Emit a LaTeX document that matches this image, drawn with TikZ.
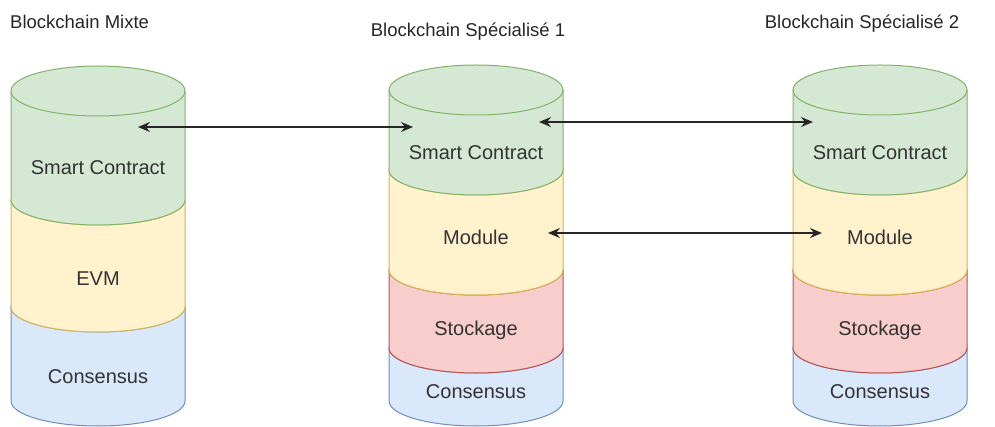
\documentclass[tikz,border=0pt]{standalone}
\usepackage{fontspec}
\setmainfont{Liberation Sans}
\usetikzlibrary{arrows.meta}

\definecolor{scfill}{HTML}{D5E8D4}
\definecolor{scline}{HTML}{82B366}
\definecolor{modfill}{HTML}{FFF2CC}
\definecolor{modline}{HTML}{D6B656}
\definecolor{stofill}{HTML}{F8CECC}
\definecolor{stoline}{HTML}{B85450}
\definecolor{consfill}{HTML}{DAE8FC}
\definecolor{consline}{HTML}{6C8EBF}

% one slice of a drum: centre x, top y, bottom y (pixels, downwards), style
\newcommand{\drumlayer}[4]{%
  \filldraw[#4] (#1-87,-#2) -- (#1-87,-#3)
    arc[start angle=180, end angle=360, x radius=87pt, y radius=25pt]
    -- (#1+87,-#2)
    arc[start angle=0, end angle=180, x radius=87pt, y radius=25pt] -- cycle;
  \draw[#4, fill=none] (#1-87,-#2)
    arc[start angle=180, end angle=360, x radius=87pt, y radius=25pt];
}

\begin{document}
\begin{tikzpicture}[
    x=1pt, y=1pt,
    >={Stealth[length=12pt, width=10pt, inset=4pt]},
    sclayer/.style={fill=scfill, draw=scline, line width=1pt},
    modlayer/.style={fill=modfill, draw=modline, line width=1pt},
    stolayer/.style={fill=stofill, draw=stoline, line width=1pt},
    conslayer/.style={fill=consfill, draw=consline, line width=1pt},
    layertext/.style={
        anchor=base,
        inner sep=0pt,
        font=\fontsize{20}{24}\selectfont,
        text=black!80
    },
    title/.style={
        anchor=base,
        inner sep=0pt,
        font=\fontsize{18.5}{22}\selectfont,
        text=black!85
    },
    link/.style={<->, line width=1.3pt, draw=black!85}
]
    \useasboundingbox (0,0) rectangle (995,-427);

    \drumlayer{98}{307}{401}{conslayer}
    \drumlayer{98}{200}{307}{modlayer}
    \drumlayer{98}{91}{200}{sclayer}

    \drumlayer{476}{348}{401}{conslayer}
    \drumlayer{476}{270}{348}{stolayer}
    \drumlayer{476}{170}{270}{modlayer}
    \drumlayer{476}{90}{170}{sclayer}

    \drumlayer{880}{348}{401}{conslayer}
    \drumlayer{880}{270}{348}{stolayer}
    \drumlayer{880}{170}{270}{modlayer}
    \drumlayer{880}{90}{170}{sclayer}

    \node[title, anchor=base west] (mixte) at (10,-29) {Blockchain Mixte};
    \node[title] (spec1) at (468,-37) {Blockchain Spécialisé 1};
    \node[title] (spec2) at (862,-29) {Blockchain Spécialisé 2};

    \node[layertext] (sc1) at (98,-175) {Smart Contract};
    \node[layertext] (evm1) at (98,-286) {EVM};
    \node[layertext] (cons1) at (98,-383) {Consensus};

    \node[layertext] (sc2) at (476,-160) {Smart Contract};
    \node[layertext] (mod2) at (476,-245) {Module};
    \node[layertext] (sto2) at (476,-335) {Stockage};
    \node[layertext] (cons2) at (476,-398) {Consensus};

    \node[layertext] (sc3) at (880,-160) {Smart Contract};
    \node[layertext] (mod3) at (880,-245) {Module};
    \node[layertext] (sto3) at (880,-335) {Stockage};
    \node[layertext] (cons3) at (880,-398) {Consensus};

    \coordinate (sc1r) at (138,-127);
    \coordinate (sc2l) at (413,-127);
    \coordinate (sc2r) at (539,-122);
    \coordinate (sc3l) at (813,-122);
    \coordinate (mod2r) at (548,-233);
    \coordinate (mod3l) at (822,-233);

    \draw[link] (sc1r) -- (sc2l);
    \draw[link] (sc2r) -- (sc3l);
    \draw[link] (mod2r) -- (mod3l);
\end{tikzpicture}
\end{document}
